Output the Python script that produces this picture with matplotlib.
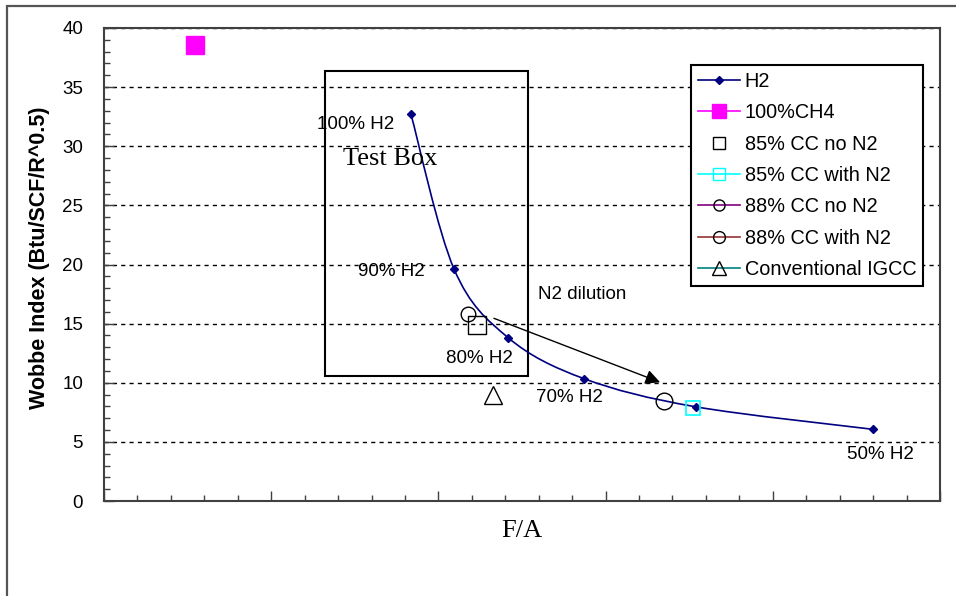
import numpy as np
import matplotlib.pyplot as plt
from matplotlib.lines import Line2D
from matplotlib.path import Path
from matplotlib.patches import PathPatch, Rectangle

# H2 blend curve (F/A in tick units, Wobbe index)
h2_fa = [9.18, 10.47, 12.09, 14.36, 17.69, 23.0]
h2_wobbe = [32.7, 19.6, 13.8, 10.34, 7.97, 6.06]
h2_labels = ["100% H2", "90% H2", "80% H2", "70% H2", "", "50% H2"]

# single-point series
ch4_fa, ch4_wobbe = [2.72], [38.56]
cc85_no_fa, cc85_no_wobbe = [11.15], [14.87]
cc85_n2_fa, cc85_n2_wobbe = [17.62], [7.84]
cc88_no_fa, cc88_no_wobbe = [10.89], [15.8]
cc88_n2_fa, cc88_n2_wobbe = [16.75], [8.46]
igcc_fa, igcc_wobbe = [11.64], [8.96]

# N2 dilution arrow (start, end)
arrow_start = (11.66, 15.45)
arrow_end = (16.63, 10.04)

plt.rcParams['font.family'] = ['Liberation Sans', 'DejaVu Sans']

fig = plt.figure(figsize=(9.56, 5.96), dpi=100)
ax = fig.add_axes([104 / 956, 95 / 596, 836 / 956, 473 / 596])

# outer chart frame (cut off at right/bottom like the screenshot)
fig.patches.append(Rectangle((7 / 956, -0.1), 1.2, 1 - 6 / 596 + 0.1,
                             transform=fig.transFigure, fill=False,
                             edgecolor='#555555', lw=1.6))

ax.set_xlim(0, 25)
ax.set_ylim(0, 40)
ax.set_xticks(np.arange(0, 26, 5))
ax.set_xticks(np.arange(0, 26, 1), minor=True)
ax.set_yticks(np.arange(0, 41, 5))
ax.set_yticks(np.arange(0, 41, 1), minor=True)
ax.tick_params(axis='x', which='both', direction='in', labelbottom=False)
ax.tick_params(axis='both', which='major', length=7, width=1, color='#404040')
ax.tick_params(axis='both', which='minor', direction='in', length=4, width=1, color='#404040')
ax.tick_params(axis='y', which='both', direction='in', labelsize=13.5, pad=15)
ax.yaxis.grid(True, linestyle=(0, (3, 3)), color='black', lw=1)
for sp in ax.spines.values():
    sp.set_color('#404040')
    sp.set_linewidth(1.5)

# smoothed H2 line (Catmull-Rom -> cubic Bezier through the points)
pts = np.column_stack([h2_fa, h2_wobbe])
ext = np.vstack([pts[0], pts, pts[-1]])
verts = [tuple(pts[0])]
codes = [Path.MOVETO]
for i in range(len(pts) - 1):
    p0, p1, p2, p3 = ext[i], ext[i + 1], ext[i + 2], ext[i + 3]
    verts += [tuple(p1 + (p2 - p0) / 6), tuple(p2 - (p3 - p1) / 6), tuple(p2)]
    codes += [Path.CURVE4] * 3
ax.add_patch(PathPatch(Path(verts, codes), facecolor='none', edgecolor='#000080', lw=1.2, zorder=3))
ax.plot(h2_fa, h2_wobbe, linestyle='none', marker='D', ms=4, color='#000080', zorder=4)

label_offsets = [(-12, -7.5, 'right'), (-21.5, -1.5, 'right'), (-20.6, -14.8, 'center'),
                 (-10.7, -13.7, 'center'), (0, 0, 'center'), (5.2, -17.8, 'center')]
for x, y, lab, (dx, dy, ha) in zip(h2_fa, h2_wobbe, h2_labels, label_offsets):
    if lab:
        ax.annotate(lab, (x, y), xytext=(dx, dy), textcoords='offset points',
                    ha=ha, va='center', fontsize=13.5)

ax.plot(ch4_fa, ch4_wobbe, linestyle='none', marker='s', ms=12.5, color='#FF00FF', zorder=4)
ax.plot(cc85_no_fa, cc85_no_wobbe, linestyle='none', marker='s', ms=12.5, mfc='none', mec='black', mew=1, zorder=4)
ax.plot(cc85_n2_fa, cc85_n2_wobbe, linestyle='none', marker='s', ms=10.5, mfc='none', mec='#00FFFF', mew=1.2, zorder=4)
ax.plot(cc88_no_fa, cc88_no_wobbe, linestyle='none', marker='o', ms=10.5, mfc='none', mec='black', mew=1, zorder=4)
ax.plot(cc88_n2_fa, cc88_n2_wobbe, linestyle='none', marker='o', ms=12, mfc='none', mec='black', mew=1, zorder=4)
ax.plot(igcc_fa, igcc_wobbe, linestyle='none', marker='^', ms=12.5, mfc='none', mec='black', mew=1, zorder=4)

# test box
ax.add_patch(Rectangle((6.61, 10.6), 6.08, 25.76, fill=False, edgecolor='black', lw=1.5, zorder=2.6))
ax.text(7.15, 28.9, "Test Box", family=['Liberation Serif', 'DejaVu Serif'], fontsize=19, va='center')

ax.annotate("", xy=arrow_end, xytext=arrow_start,
            arrowprops=dict(arrowstyle='-|>', mutation_scale=22, color='black', lw=1,
                            shrinkA=0, shrinkB=0))
ax.text(12.98, 17.5, "N2 dilution", fontsize=13.5, va='center')

ax.set_ylabel("Wobbe Index (Btu/SCF/R^0.5)", fontweight='bold', fontsize=15.5)
ax.yaxis.set_label_coords(-0.064, 0.514)
ax.set_xlabel("F/A", family=['Liberation Serif', 'DejaVu Serif'], fontsize=19, labelpad=14)

handles = [
    Line2D([], [], color='#000080', marker='D', ms=4, lw=1.2),
    Line2D([], [], color='#FF00FF', marker='s', ms=9.5, lw=1.2),
    Line2D([], [], color='none', marker='s', ms=9, mfc='none', mec='black'),
    Line2D([], [], color='#00FFFF', marker='s', ms=8.5, mfc='none', mec='#00FFFF', lw=1.2),
    Line2D([], [], color='#800080', marker='o', ms=8, mfc='none', mec='black', lw=1.2),
    Line2D([], [], color='#993333', marker='o', ms=8.5, mfc='none', mec='black', lw=1.2),
    Line2D([], [], color='#008080', marker='^', ms=10, mfc='none', mec='black', lw=1.2),
]
names = ["H2", "100%CH4", "85% CC no N2", "85% CC with N2", "88% CC no N2",
         "88% CC with N2", "Conventional IGCC"]
leg = ax.legend(handles, names, loc='upper left', bbox_to_anchor=(691 / 956, 1 - 65 / 596),
                bbox_transform=fig.transFigure, fontsize=14.3, frameon=True, fancybox=False,
                edgecolor='black', framealpha=1, borderpad=0.35, labelspacing=0.62,
                handlelength=2.1, handletextpad=0.25, borderaxespad=0)
leg.get_frame().set_linewidth(1.5)

fig.savefig("out.png", dpi=100)
